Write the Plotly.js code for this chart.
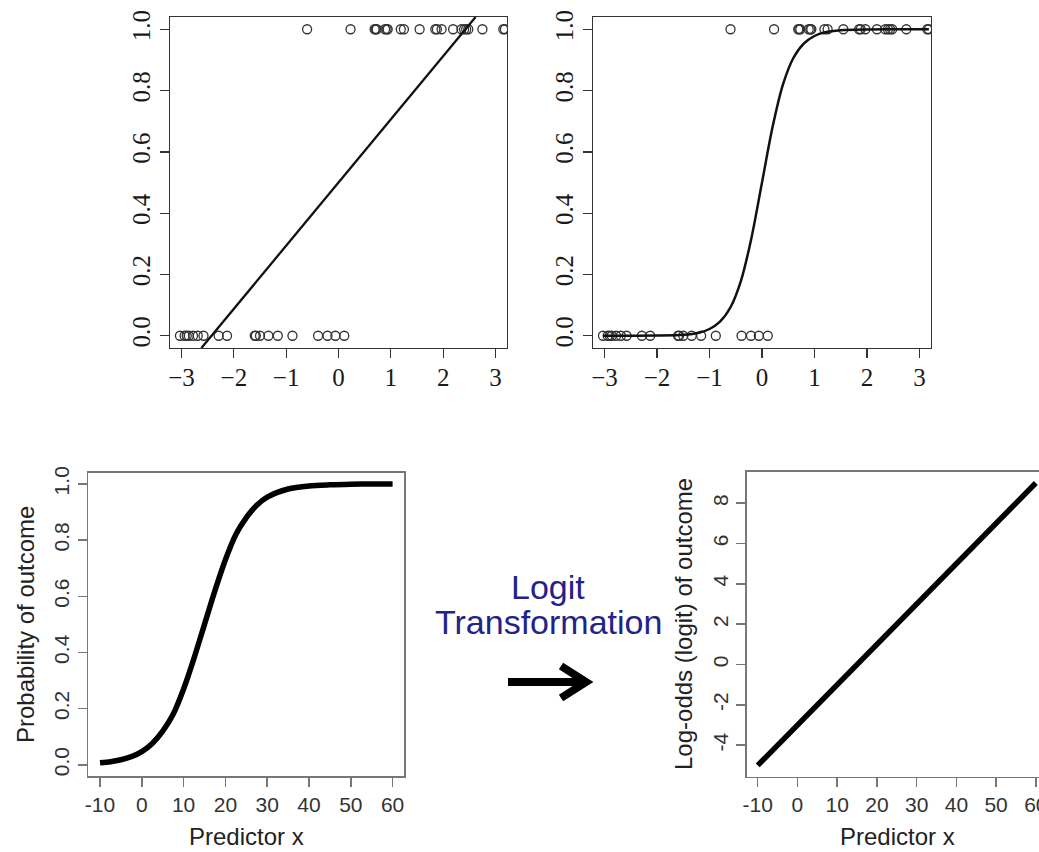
<!DOCTYPE html>
<html>
<head>
<meta charset="utf-8">
<script src="https://cdn.plot.ly/plotly-3.0.1.min.js"></script>
<style>html,body{margin:0;padding:0;background:#fff;}#chart{width:1039px;height:852px;}</style>
</head>
<body>
<div id="chart"></div>
<script>
// ---- data ----
// observed outcomes (top panels)
var x0 = [-3.03, -2.94, -2.90, -2.86, -2.78, -2.69, -2.58, -2.29, -2.13, -1.60, -1.58, -1.50, -1.34, -1.16, -0.88, -0.39, -0.21, -0.06, 0.11];
var x1 = [-0.60, 0.23, 0.69, 0.71, 0.73, 0.89, 0.92, 0.94, 1.19, 1.25, 1.55, 1.85, 1.88, 1.97, 2.19, 2.35, 2.40, 2.44, 2.48, 2.75, 3.15, 3.18];
// linear fit (top-left), endpoints where it meets the frame
var olsX = [-2.62, 2.62];
var olsY = [-0.04, 1.04];
// logistic fit (top-right)
var sigX = [-3.03, -2.5, -2.0, -1.5, -1.2, -1.0, -0.8, -0.6, -0.4, -0.2, 0.0, 0.2, 0.4, 0.6, 0.8, 1.0, 1.2, 1.5, 2.0, 2.5, 3.18];
var sigY = [0.0, 0.0001, 0.0005, 0.003, 0.010, 0.022, 0.046, 0.093, 0.18, 0.32, 0.50, 0.68, 0.82, 0.907, 0.954, 0.978, 0.990, 0.997, 0.9995, 0.9999, 1.0];
// probability curve (bottom-left)
var probX = [-10, -7.5, -5, -2.5, 0, 2.5, 5, 7.5, 10, 12.5, 15, 17.5, 20, 22.5, 25, 27.5, 30, 35, 40, 45, 50, 55, 60];
var probY = [0.007, 0.011, 0.018, 0.029, 0.047, 0.076, 0.12, 0.18, 0.27, 0.38, 0.50, 0.62, 0.73, 0.82, 0.88, 0.924, 0.953, 0.982, 0.993, 0.997, 0.999, 1.0, 1.0];
// log-odds line (bottom-right)
var logitX = [-10, 0, 10, 20, 30, 40, 50, 60];
var logitY = [-5, -3, -1, 1, 3, 5, 7, 9];
// tick labels
var topXTicks = [-3, -2, -1, 0, 1, 2, 3];
var topYTicks = [0, 0.2, 0.4, 0.6, 0.8, 1.0];
var topYText = ["0.0", "0.2", "0.4", "0.6", "0.8", "1.0"];
var botXTicks = [-10, 0, 10, 20, 30, 40, 50, 60];
var botXText = ["-10", "0", "10", "20", "30", "40", "50", "60"];
var probYTicks = [0, 0.2, 0.4, 0.6, 0.8, 1.0];
var probYText = ["0.0", "0.2", "0.4", "0.6", "0.8", "1.0"];
var logitYTicks = [-4, -2, 0, 2, 4, 6, 8];
var logitYText = ["-4", "-2", "0", "2", "4", "6", "8"];
var centerText = ["Logit", "Transformation"];
var xTitle = "Predictor x";
var probTitle = "Probability of outcome";
var logitTitle = "Log-odds (logit) of outcome";

var W = 1039, H = 852;
function px(v){ return v / W; }
function py(v){ return 1 - v / H; }

var circ = {symbol: 'circle-open', size: 9, color: '#333', line: {width: 1.3, color: '#333'}};
var traces = [
  {x: x0, y: x0.map(function(){return 0;}), mode: 'markers', marker: circ, xaxis: 'x', yaxis: 'y', showlegend: false},
  {x: x1, y: x1.map(function(){return 1;}), mode: 'markers', marker: circ, xaxis: 'x', yaxis: 'y', showlegend: false},
  {x: olsX, y: olsY, mode: 'lines', line: {color: '#111', width: 2.3}, xaxis: 'x', yaxis: 'y', showlegend: false},
  {x: x0, y: x0.map(function(){return 0;}), mode: 'markers', marker: circ, xaxis: 'x2', yaxis: 'y2', showlegend: false},
  {x: x1, y: x1.map(function(){return 1;}), mode: 'markers', marker: circ, xaxis: 'x2', yaxis: 'y2', showlegend: false},
  {x: sigX, y: sigY, mode: 'lines', line: {color: '#111', width: 2.5, shape: 'spline', smoothing: 0.8}, xaxis: 'x2', yaxis: 'y2', showlegend: false},
  {x: probX, y: probY, mode: 'lines', line: {color: '#000', width: 5.5, shape: 'spline', smoothing: 0.8}, xaxis: 'x3', yaxis: 'y3', showlegend: false},
  {x: logitX, y: logitY, mode: 'lines', line: {color: '#000', width: 5.5}, xaxis: 'x4', yaxis: 'y4', showlegend: false}
];

var serif = {family: 'Liberation Serif, Times New Roman, serif', size: 25, color: '#1a1a1a'};
var sans = {family: 'Liberation Sans, Arial, sans-serif', size: 21, color: '#333'};

function topX(dom, anchor){
  return {domain: dom, anchor: anchor, range: [-3.22, 3.22], tickmode: 'array', tickvals: topXTicks,
    ticks: 'outside', ticklen: 9, tickwidth: 1.3, tickcolor: '#333', showline: true, mirror: true,
    linecolor: '#333', linewidth: 1.4, showgrid: false, zeroline: false, tickfont: serif, ticklabelstandoff: -2, fixedrange: true};
}
function topY(anchor){
  return {domain: [py(348), py(17)], anchor: anchor, range: [-0.04, 1.04], tickmode: 'array', tickvals: topYTicks, ticktext: topYText,
    tickangle: -90, ticks: 'outside', ticklen: 9, tickwidth: 1.3, tickcolor: '#333', showline: true, mirror: true,
    linecolor: '#333', linewidth: 1.4, showgrid: false, zeroline: false, tickfont: serif, fixedrange: true};
}

var layout = {
  width: W, height: H,
  margin: {l: 0, r: 0, t: 0, b: 0},
  paper_bgcolor: '#fff', plot_bgcolor: 'rgba(0,0,0,0)',
  showlegend: false,
  xaxis: topX([px(170), px(507)], 'y'),
  yaxis: topY('x'),
  xaxis2: topX([px(593), px(931)], 'y2'),
  yaxis2: topY('x2'),
  xaxis3: {domain: [px(88.3), px(404.3)], anchor: 'y3', range: [-12.8, 62.8], tickmode: 'array', tickvals: botXTicks, ticktext: botXText,
    ticks: 'outside', ticklen: 9, tickwidth: 1.5, tickcolor: '#777', showline: true, mirror: true, linecolor: '#777', linewidth: 1.5,
    showgrid: false, zeroline: false, tickfont: sans, fixedrange: true},
  yaxis3: {domain: [py(776), py(472.7)], anchor: 'x3', range: [-0.04, 1.04], tickmode: 'array', tickvals: probYTicks, ticktext: probYText,
    tickangle: -90, ticks: 'outside', ticklen: 9, tickwidth: 1.5, tickcolor: '#777', showline: true, mirror: true, linecolor: '#777', linewidth: 1.5,
    showgrid: false, zeroline: false, tickfont: sans, fixedrange: true},
  xaxis4: {domain: [px(746.6), 1], anchor: 'y4', range: [-12.8, 60.8], tickmode: 'array', tickvals: botXTicks, ticktext: botXText,
    ticks: 'outside', ticklen: 9, tickwidth: 1.5, tickcolor: '#777', showline: true, mirror: true, linecolor: '#777', linewidth: 1.5,
    showgrid: false, zeroline: false, tickfont: sans, ticklabeloverflow: 'allow', fixedrange: true},
  yaxis4: {domain: [py(776.7), py(471.7)], anchor: 'x4', range: [-5.56, 9.56], tickmode: 'array', tickvals: logitYTicks, ticktext: logitYText,
    tickangle: -90, ticks: 'outside', ticklen: 9, tickwidth: 1.5, tickcolor: '#777', showline: true, mirror: false, linecolor: '#777', linewidth: 1.5,
    showgrid: false, zeroline: false, tickfont: sans, fixedrange: true},
  annotations: [
    {text: centerText[0], x: px(547.5), y: py(587), xref: 'paper', yref: 'paper', showarrow: false, xanchor: 'center', yanchor: 'middle',
      font: {family: 'Liberation Sans, Arial, sans-serif', size: 34, color: '#1f238a'}},
    {text: centerText[1], x: px(548), y: py(621.5), xref: 'paper', yref: 'paper', showarrow: false, xanchor: 'center', yanchor: 'middle',
      font: {family: 'Liberation Sans, Arial, sans-serif', size: 34, color: '#1f238a'}},
    {text: xTitle, x: px(246), y: py(836), xref: 'paper', yref: 'paper', showarrow: false, xanchor: 'center', yanchor: 'middle',
      font: {family: 'Liberation Sans, Arial, sans-serif', size: 24, color: '#222'}},
    {text: xTitle, x: px(897), y: py(836), xref: 'paper', yref: 'paper', showarrow: false, xanchor: 'center', yanchor: 'middle',
      font: {family: 'Liberation Sans, Arial, sans-serif', size: 24, color: '#222'}},
    {text: probTitle, x: px(25), y: py(625), xref: 'paper', yref: 'paper', showarrow: false, xanchor: 'center', yanchor: 'middle', textangle: -90,
      font: {family: 'Liberation Sans, Arial, sans-serif', size: 24, color: '#222'}},
    {text: logitTitle, x: px(683), y: py(624), xref: 'paper', yref: 'paper', showarrow: false, xanchor: 'center', yanchor: 'middle', textangle: -90,
      font: {family: 'Liberation Sans, Arial, sans-serif', size: 24, color: '#222'}}
  ],
  shapes: [
    {type: 'line', xref: 'paper', yref: 'paper', x0: px(508), y0: py(682), x1: px(583), y1: py(682), line: {color: '#000', width: 8}},
    {type: 'path', xref: 'paper', yref: 'paper',
      path: 'M ' + px(561) + ' ' + py(666) + ' L ' + px(586) + ' ' + py(682) + ' L ' + px(561) + ' ' + py(698),
      line: {color: '#000', width: 8}}
  ]
};

Plotly.newPlot('chart', traces, layout, {displayModeBar: false, staticPlot: true});
</script>
</body>
</html>
